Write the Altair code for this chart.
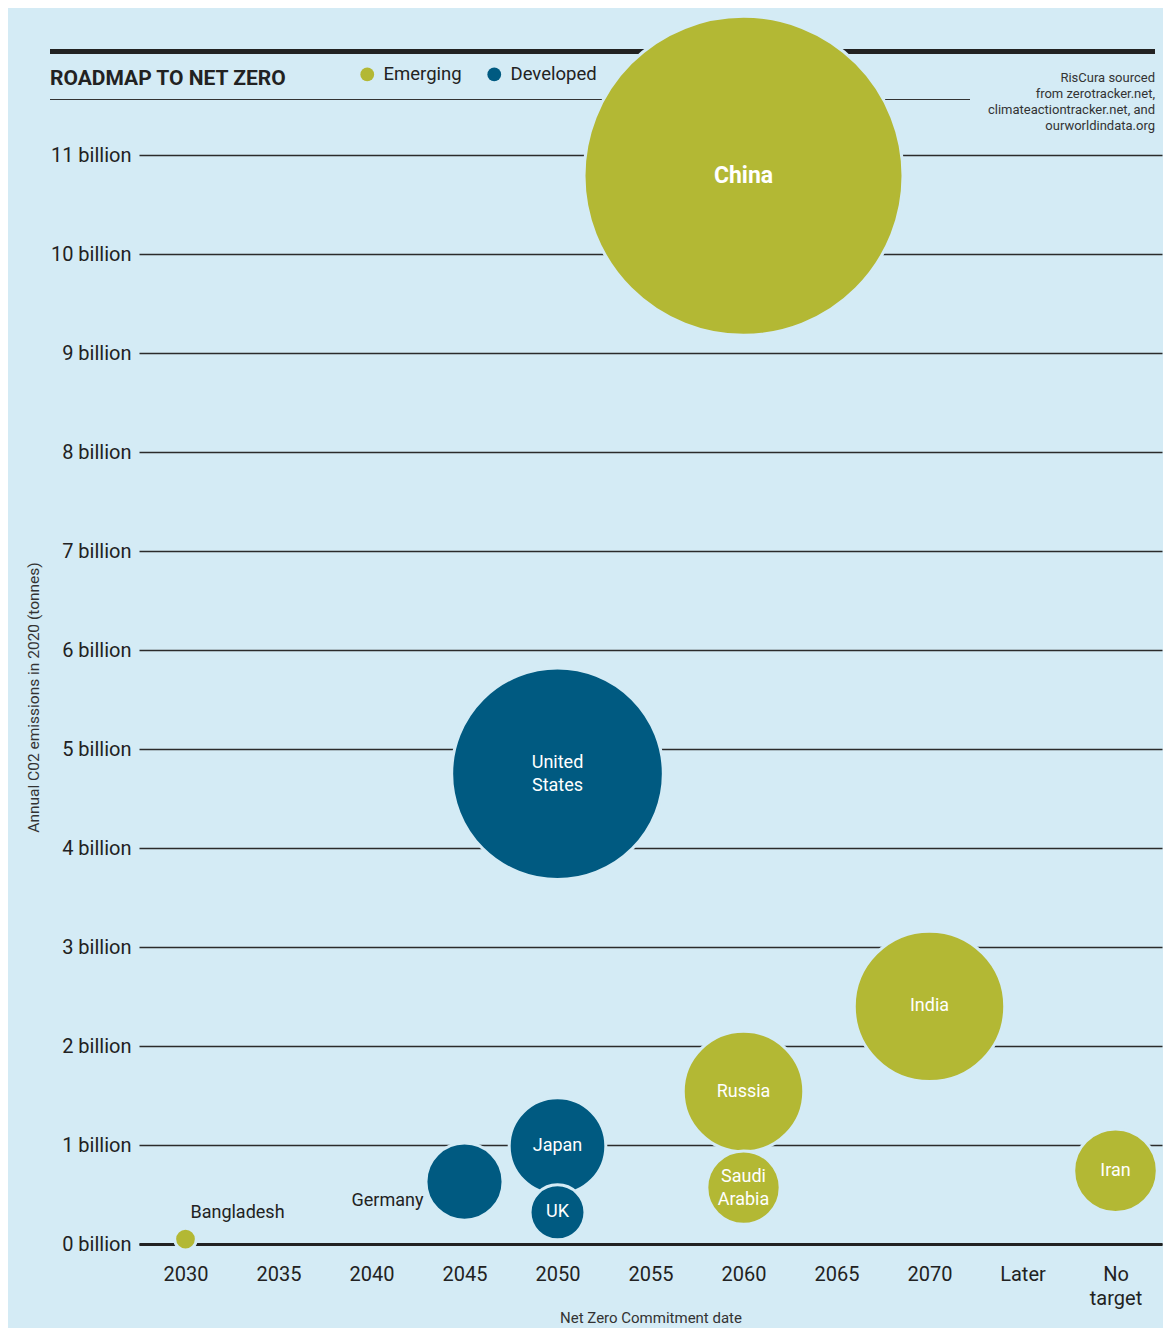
import altair as alt
import pandas as pd

# ---------------- data ----------------
countries = ["China", "United States", "India", "Russia", "Japan", "Iran",
             "Germany", "Saudi Arabia", "UK", "Bangladesh"]
labels = ["China", "United\nStates", "India", "Russia", "Japan", "Iran",
          "Germany", "Saudi\nArabia", "UK", "Bangladesh"]
targets = ["2060", "2050", "2070", "2060", "2050", "No target",
           "2045", "2060", "2050", "2030"]
emissions = [10.79, 4.75, 2.40, 1.54, 0.99, 0.74, 0.63, 0.57, 0.32, 0.05]
groups = ["Emerging", "Developed", "Emerging", "Emerging", "Developed", "Emerging",
          "Developed", "Emerging", "Developed", "Emerging"]
label_kind = ["bold", "inside2", "inside", "inside", "inside", "inside",
              "left", "inside2", "inside", "above"]

x_categories = ["2030", "2035", "2040", "2045", "2050", "2055", "2060",
                "2065", "2070", "Later", "No target"]
y_ticks = list(range(0, 12))
group_names = ["Emerging", "Developed"]

TITLE = "ROADMAP TO NET ZERO"
SOURCE = "RisCura sourced\nfrom zerotracker.net,\nclimateactiontracker.net, and\nourworldindata.org"
X_TITLE = "Net Zero Commitment date"
Y_TITLE = "Annual C02 emissions in 2020 (tonnes)"

# ---------------- style ----------------
BG = "#d4ebf5"
OLIVE = "#b3b834"
BLUE = "#005a81"
INK = "#222222"
FONT = "Roboto"

W, H = 1023, 1236
PX_PER_BILLION = 99.0
CHINA_R = 159.5  # pixel radius of the largest bubble

df = pd.DataFrame({
    "country": countries,
    "label": labels,
    "target": targets,
    "emissions": emissions,
    "group": groups,
    "kind": label_kind,
})

x_enc = alt.X(
    "target:O",
    scale=alt.Scale(type="point", domain=x_categories, padding=0.5),
    axis=alt.Axis(
        title=X_TITLE, titleFontSize=15, titleFontWeight="normal", titleColor="#333333",
        titleY=73, titleBaseline="middle",
        labelFontSize=20, labelColor=INK, labelPadding=20, labelLineHeight=24,
        labelAngle=0,
        labelExpr="datum.label == 'No target' ? ['No', 'target'] : datum.label",
        ticks=False, domain=True, domainColor=INK, domainWidth=3, grid=False, zindex=0,
    ),
)
y_enc = alt.Y(
    "emissions:Q",
    scale=alt.Scale(domain=[0, H / PX_PER_BILLION], nice=False, zero=True),
    axis=alt.Axis(
        title=Y_TITLE, titleFontSize=15.5, titleFontWeight="normal", titleColor="#333333",
        titleX=-106, titleY=689, titleAlign="center", titleBaseline="middle", titleAngle=270,
        values=y_ticks, labelExpr="datum.value + ' billion'",
        labelFontSize=20, labelColor=INK, labelPadding=8,
        ticks=False, domain=False, grid=True, gridColor="#2b2b2b", gridWidth=1.3, zindex=0,
    ),
)

one = pd.DataFrame({"a": [0]})

thick_rule = alt.Chart(one).mark_rule(color=INK, strokeWidth=5).encode(
    x=alt.value(-89), x2=alt.value(1016), y=alt.value(43.5))
thin_rule = alt.Chart(one).mark_rule(color="#333333", strokeWidth=1.2).encode(
    x=alt.value(-89), x2=alt.value(831), y=alt.value(91.5))
title_txt = alt.Chart(one).mark_text(
    text=TITLE, font=FONT, fontSize=21, fontWeight="bold",
    color=INK, align="left", baseline="middle").encode(
    x=alt.value(-89), y=alt.value(71))
source_txt = alt.Chart(one).mark_text(
    text=SOURCE, font=FONT, fontSize=13, lineHeight=16, lineBreak="\n",
    color="#333333", align="right", baseline="top").encode(
    x=alt.value(1016), y=alt.value(64))

base = alt.Chart(df)

bubbles = base.mark_circle(opacity=1, stroke=BG, strokeWidth=3).encode(
    x=x_enc,
    y=y_enc,
    size=alt.Size("emissions:Q",
                  scale=alt.Scale(domain=[0, 10.79], range=[0, 4 * CHINA_R ** 2]),
                  legend=None),
    color=alt.Color(
        "group:N",
        scale=alt.Scale(domain=group_names, range=[OLIVE, BLUE]),
        legend=alt.Legend(
            title=None, orient="none", legendX=219, legendY=57, direction="horizontal",
            labelFontSize=18.5, labelColor=INK, labelFont=FONT, symbolSize=190,
            symbolType="circle", symbolStrokeWidth=0, columnPadding=23, labelOffset=7,
        ),
    ),
    order=alt.Order("emissions:Q", sort="descending"),
)

inside = base.transform_filter("datum.kind == 'inside'").mark_text(
    color="white", font=FONT, fontSize=18,
    align="center", baseline="middle").encode(x=x_enc, y=y_enc, text="label:N")

inside2 = base.transform_filter("datum.kind == 'inside2'").mark_text(
    color="white", font=FONT, fontSize=18, lineBreak="\n", lineHeight=23,
    align="center", baseline="middle", dy=-11).encode(x=x_enc, y=y_enc, text="label:N")

bold = base.transform_filter("datum.kind == 'bold'").mark_text(
    color="white", font=FONT, fontSize=23, fontWeight="bold",
    align="center", baseline="middle").encode(x=x_enc, y=y_enc, text="label:N")

left_lbl = base.transform_filter("datum.kind == 'left'").mark_text(
    color=INK, font=FONT, fontSize=18, align="right", baseline="middle",
    dx=-41, dy=19).encode(x=x_enc, y=y_enc, text="label:N")

above_lbl = base.transform_filter("datum.kind == 'above'").mark_text(
    color=INK, font=FONT, fontSize=18, align="center", baseline="middle",
    dx=52, dy=-26).encode(x=x_enc, y=y_enc, text="label:N")

chart = alt.layer(
    thick_rule, thin_rule, title_txt, source_txt,
    bubbles, inside, inside2, bold, left_lbl, above_lbl,
).properties(
    width=W, height=H,
    autosize=alt.AutoSizeParams(type="none"),
    padding={"left": 131, "top": 0, "right": 1, "bottom": 84},
    background=BG,
).configure(
    font=FONT,
).configure_view(
    stroke=None,
)

chart.save("out.html", embed_options={"renderer": "svg", "actions": False})
